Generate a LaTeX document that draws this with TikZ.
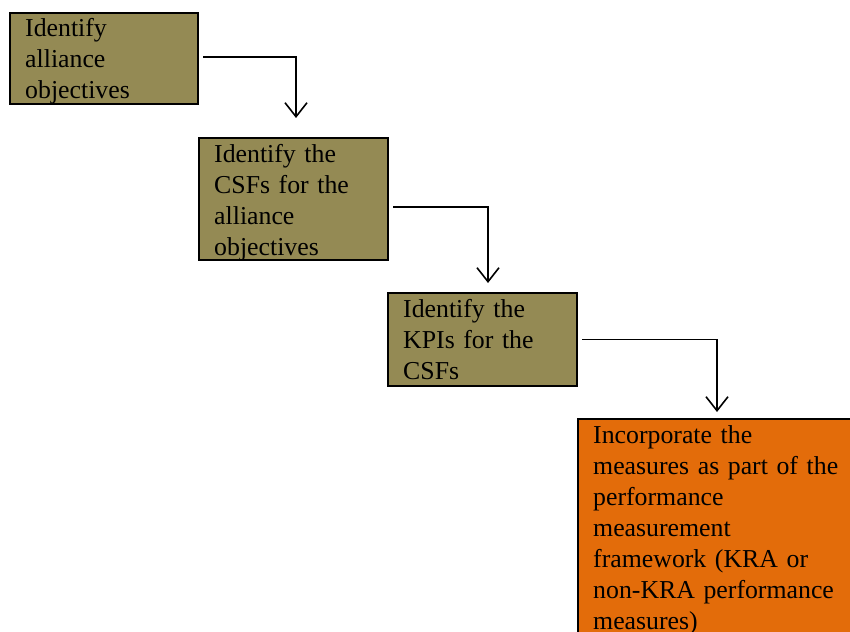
\documentclass[tikz,border=0pt]{standalone}
\usepackage{fontspec}
\setmainfont{Liberation Serif}
\usetikzlibrary{arrows.meta}
\definecolor{tanbox}{RGB}{148,138,84}
\definecolor{orangebox}{RGB}{227,108,10}
\begin{document}
\begin{tikzpicture}[x=1pt,y=-1pt,
  stepbox/.style={draw=black, line width=2.5pt, anchor=north west, inner sep=0pt, outer sep=0pt},
  steptext/.style={anchor=north west, inner sep=0pt, text width=265pt, align=left,
    font=\fontsize{25.8}{31}\selectfont},
  flow/.style={line width=1.6pt, -{Straight Barb[length=14pt,width=22pt,line width=1.6pt]}}]
\useasboundingbox (0,0) rectangle (850,631);
\clip (0,0) rectangle (850,631);

% process boxes
\node[stepbox, fill=tanbox, minimum width=188pt, minimum height=91pt] (b1) at (10,13) {};
\node[stepbox, fill=tanbox, minimum width=189pt, minimum height=122pt] (b2) at (199,138) {};
\node[stepbox, fill=tanbox, minimum width=189pt, minimum height=93pt] (b3) at (388,293) {};
\node[stepbox, fill=orangebox, minimum width=280pt, minimum height=230pt] (b4) at (578,419) {};

% box texts
\node[steptext] (l1) at ([shift={(15,1.3)}]b1.north west) {\strut Identify\\alliance\\objectives};
\node[steptext] (l2) at ([shift={(15,2.3)}]b2.north west) {\strut Identify the\\CSFs for the\\alliance\\objectives};
\node[steptext] (l3) at ([shift={(15,2.3)}]b3.north west) {\strut Identify the\\KPIs for the\\CSFs};
\node[steptext] (l4) at ([shift={(15,2.3)}]b4.north west) {\strut Incorporate the\\measures as part of the\\performance\\measurement\\framework (KRA or\\non-KRA performance\\measures)};

% arrow tips stop short of the next box
\coordinate (t1) at (296,118);
\coordinate (t2) at (488,283);
\coordinate (t3) at (717,412);

\draw[flow] ([shift={(5,-1.5)}]b1.east) -| (t1);
\draw[flow] ([shift={(5,8)}]b2.east) -| (t2);
\draw[flow] ([shift={(5,0)}]b3.east) -| (t3);
\end{tikzpicture}
\end{document}
